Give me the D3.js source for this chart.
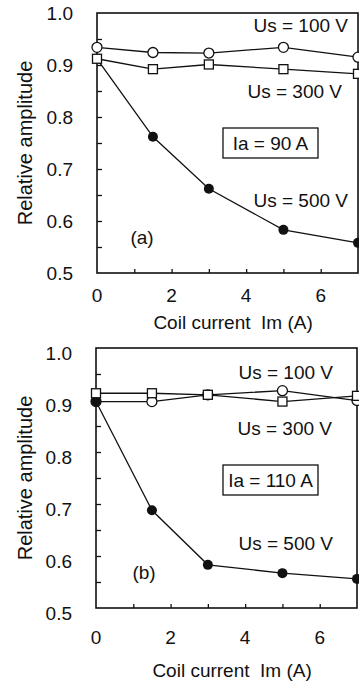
<!DOCTYPE html>
<html>
<head>
<meta charset="utf-8">
<script src="https://cdn.jsdelivr.net/npm/d3@7"></script>
<style>
  body { margin: 0; background: #fff; }
  text { font-family: "Liberation Sans", Arial, sans-serif; fill: #111; }
</style>
</head>
<body>
<div class="chart"></div>
<script>
// coil current values (x) shared by every series
var coilCurrent = [0, 1.5, 3, 5, 7];

// panel (a), Ia = 90 A
var a_us100 = [0.934, 0.924, 0.923, 0.934, 0.915];
var a_us300 = [0.912, 0.892, 0.901, 0.892, 0.883];
var a_us500 = [0.912, 0.762, 0.662, 0.583, 0.558];

// panel (b), Ia = 110 A
var b_us100 = [0.897, 0.897, 0.910, 0.918, 0.899];
var b_us300 = [0.913, 0.913, 0.910, 0.897, 0.908];
var b_us500 = [0.897, 0.688, 0.583, 0.567, 0.556];

var xTickLabels = [0, 2, 4, 6];
var yTickLabels = [0.5, 0.6, 0.7, 0.8, 0.9, 1.0];
var xTitle = "Coil current  Im (A)";
var yTitle = "Relative amplitude";

var svg = d3.select("div.chart").append("svg")
    .attr("width", 359)
    .attr("height", 683);

function zip(ys) {
  return ys.map(function(y, i) { return [coilCurrent[i], y]; });
}

function drawPanel(top, left, p) {
  var width = 261, height = 260;
  var g = svg.append("g").attr("transform", "translate(" + left + "," + top + ")");

  var x = d3.scaleLinear().domain([0, 7]).range([0, width]);
  var y = d3.scaleLinear().domain([0.5, 1.0]).range([height, 0]);

  // frame
  g.append("rect")
      .attr("width", width)
      .attr("height", height)
      .attr("fill", "none")
      .attr("stroke", "#111")
      .attr("stroke-width", 1.6);

  // inward ticks
  g.append("g")
      .attr("transform", "translate(0," + height + ")")
      .call(d3.axisTop(x).tickValues(d3.range(1, 7)).tickSize(4).tickFormat(""))
      .call(function(s) { s.select(".domain").remove(); })
      .selectAll("line").attr("stroke", "#111").attr("stroke-width", 1.3);
  g.append("g")
      .call(d3.axisRight(y).tickValues(d3.range(0.55, 1.0, 0.05)).tickSize(5).tickFormat(""))
      .call(function(s) { s.select(".domain").remove(); })
      .selectAll("line").attr("stroke", "#111").attr("stroke-width", 1.3);

  // tick labels
  g.append("g").selectAll("text")
      .data(xTickLabels)
    .enter().append("text")
      .attr("x", function(d) { return x(d); })
      .attr("y", height + p.xLabelGap)
      .attr("text-anchor", "middle")
      .attr("font-size", 19)
      .text(function(d) { return d; });
  g.append("g").selectAll("text")
      .data(yTickLabels)
    .enter().append("text")
      .attr("x", -24)
      .attr("y", function(d) { return y(d) + p.yLabelShift; })
      .attr("text-anchor", "end")
      .attr("font-size", 19)
      .text(function(d) { return d3.format(".1f")(d); });

  g.append("text")
      .attr("x", x(3.65))
      .attr("y", height + p.xTitleGap)
      .attr("text-anchor", "middle")
      .attr("font-size", 19)
      .style("white-space", "pre")
      .text(xTitle);
  g.append("text")
      .attr("transform", "translate(" + (32 - left) + "," + (height / 2) + ") rotate(-90)")
      .attr("text-anchor", "middle")
      .attr("font-size", 20)
      .text(yTitle);

  var line = d3.line()
      .x(function(d) { return x(d[0]); })
      .y(function(d) { return y(d[1]); });

  [p.us300, p.us100, p.us500].forEach(function(s) {
    g.append("path")
        .datum(zip(s))
        .attr("fill", "none")
        .attr("stroke", "#111")
        .attr("stroke-width", 1.3)
        .attr("d", line);
  });

  // markers: open circles, then filled, squares on top
  g.append("g").selectAll("circle")
      .data(zip(p.us100))
    .enter().append("circle")
      .attr("cx", function(d) { return x(d[0]); })
      .attr("cy", function(d) { return y(d[1]); })
      .attr("r", 5)
      .attr("fill", "#fff")
      .attr("stroke", "#111")
      .attr("stroke-width", 1.3);
  g.append("g").selectAll("circle")
      .data(zip(p.us500))
    .enter().append("circle")
      .attr("cx", function(d) { return x(d[0]); })
      .attr("cy", function(d) { return y(d[1]); })
      .attr("r", 5)
      .attr("fill", "#111");
  g.append("g").selectAll("rect")
      .data(zip(p.us300))
    .enter().append("rect")
      .attr("x", function(d) { return x(d[0]) - 4.5; })
      .attr("y", function(d) { return y(d[1]) - 4.5; })
      .attr("width", 9)
      .attr("height", 9)
      .attr("fill", "#fff")
      .attr("stroke", "#111")
      .attr("stroke-width", 1.3);

  // annotations
  var notes = [
    {t: "Us = 100 V", x: p.n100[0], y: p.n100[1]},
    {t: "Us = 300 V", x: p.n300[0], y: p.n300[1]},
    {t: "Us = 500 V", x: p.n500[0], y: p.n500[1]}
  ];
  g.append("g").selectAll("text")
      .data(notes)
    .enter().append("text")
      .attr("x", function(d) { return d.x - left; })
      .attr("y", function(d) { return d.y - top; })
      .attr("text-anchor", "end")
      .attr("font-size", 19)
      .text(function(d) { return d.t; });

  g.append("rect")
      .attr("x", 223 - left)
      .attr("y", p.box - top)
      .attr("width", 95)
      .attr("height", 30)
      .attr("fill", "none")
      .attr("stroke", "#111")
      .attr("stroke-width", 1.3);
  g.append("text")
      .attr("x", 270.5 - left)
      .attr("y", p.box - top + 22)
      .attr("text-anchor", "middle")
      .attr("font-size", 19)
      .text(p.ia);
  g.append("text")
      .attr("x", p.tag[0] - left)
      .attr("y", p.tag[1] - top)
      .attr("text-anchor", "middle")
      .attr("font-size", 19)
      .text(p.label);
}

drawPanel(13, 97, {
  us100: a_us100, us300: a_us300, us500: a_us500,
  ia: "Ia = 90 A", label: "(a)",
  n100: [348, 32], n300: [342, 98], n500: [348, 207],
  box: 128, tag: [142, 244],
  yLabelShift: 7, xLabelGap: 29, xTitleGap: 56
});
drawPanel(348, 96, {
  us100: b_us100, us300: b_us300, us500: b_us500,
  ia: "Ia = 110 A", label: "(b)",
  n100: [333, 379], n300: [332, 435], n500: [333, 550],
  box: 465, tag: [144, 579],
  yLabelShift: 12, xLabelGap: 36, xTitleGap: 69
});
</script>
</body>
</html>
